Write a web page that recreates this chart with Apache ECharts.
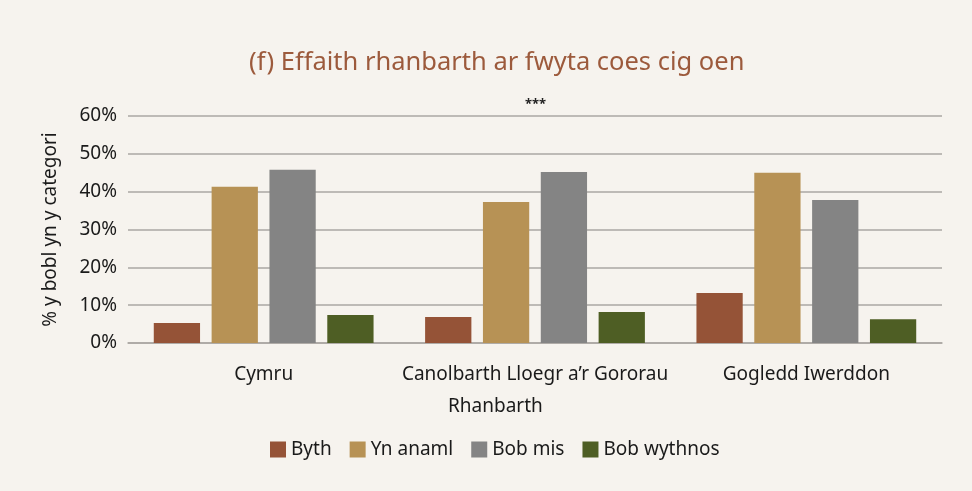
<!DOCTYPE html>
<html>
<head>
<meta charset="utf-8">
<script src="https://cdn.jsdelivr.net/npm/echarts@6/dist/echarts.min.js"></script>
<style>
html,body{margin:0;padding:0;background:#f6f3ee;}
#c{width:972px;height:491px;}
</style>
</head>
<body>
<div id="c"></div>
<script>
const categories = ['Cymru', 'Canolbarth Lloegr a\u2019r Gororau', 'Gogledd Iwerddon'];
const seriesNames = ['Byth', 'Yn anaml', 'Bob mis', 'Bob wythnos'];
const byth = [5.3, 6.9, 13.2];
const ynAnaml = [41.3, 37.3, 45.0];
const bobMis = [45.8, 45.2, 37.8];
const bobWythnos = [7.4, 8.2, 6.3];
const yTicks = [0, 10, 20, 30, 40, 50, 60];
const colors = ['#955337', '#b79255', '#848484', '#4e5e24'];
const FONT = 'Noto Sans';
const FS = 19;

const values = [byth, ynAnaml, bobMis, bobWythnos];
const chart = echarts.init(document.getElementById('c'), null, {renderer: 'canvas'});
chart.setOption({
  backgroundColor: '#f6f3ee',
  textStyle: {fontFamily: FONT},
  title: {
    text: '(f) Effaith rhanbarth ar fwyta coes cig oen',
    left: 244, top: 45,
    textStyle: {fontFamily: FONT, fontSize: 25.5, fontWeight: 'normal', color: '#9c5a3c'}
  },
  graphic: [{
    type: 'text', left: 525, top: 98,
    style: {text: '***', font: 'bold 13px "' + FONT + '"', fill: '#222'}
  }, {
    type: 'text', left: 448, top: 397,
    style: {text: 'Rhanbarth', font: FS + 'px "' + FONT + '"', fill: '#1a1a1a'}
  }],
  legend: {
    bottom: 27, left: 265,
    itemWidth: 16, itemHeight: 16, itemGap: 18,
    icon: 'rect',
    textStyle: {fontFamily: FONT, fontSize: FS, color: '#1a1a1a'},
    data: seriesNames
  },
  grid: {left: 128, right: 30, top: 116, bottom: 148, containLabel: false},
  xAxis: {
    type: 'category', data: categories,
    axisLine: {show: true, lineStyle: {color: '#aaa7a3', width: 1.5}},
    axisTick: {show: false},
    axisLabel: {fontFamily: FONT, fontSize: FS, color: '#1a1a1a', margin: 22, interval: 0}
  },
  yAxis: {
    type: 'value', min: yTicks[0], max: yTicks[yTicks.length - 1], interval: 10,
    name: '% y bobl yn y categori', nameLocation: 'middle', nameGap: 68,
    nameTextStyle: {fontFamily: FONT, fontSize: FS, color: '#1a1a1a'},
    axisLine: {show: false}, axisTick: {show: false},
    axisLabel: {fontFamily: FONT, fontSize: FS, color: '#1a1a1a', margin: 11, formatter: '{value}%'},
    splitLine: {lineStyle: {color: '#aaa7a3', width: 1.5}}
  },
  series: seriesNames.map((n, i) => ({
    name: n, type: 'bar', data: values[i],
    itemStyle: {color: colors[i]},
    barGap: '25%', barCategoryGap: '19%',
    animation: false
  }))
});
</script>
</body>
</html>
